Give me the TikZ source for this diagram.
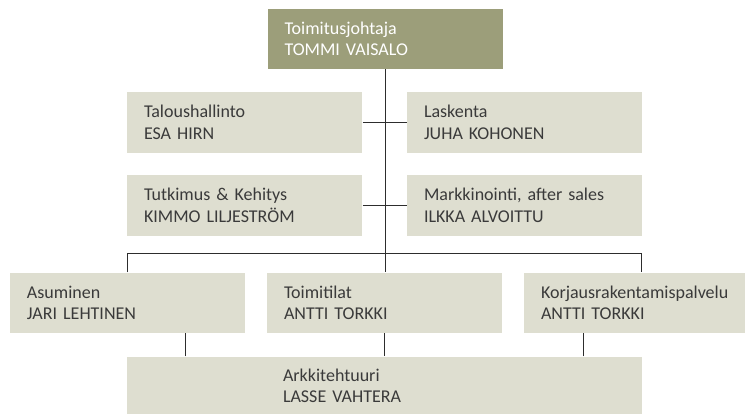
\documentclass[tikz,border=0pt]{standalone}
\usepackage{fontspec}
\setmainfont[WordSpace=0.7]{Carlito}
\usepackage{tikz}
\usetikzlibrary{positioning}

\definecolor{boxgray}{RGB}{222,222,208}
\definecolor{boxolive}{RGB}{156,158,122}
\definecolor{textgray}{RGB}{58,58,58}
\definecolor{linegray}{RGB}{45,45,45}

\begin{document}
\begin{tikzpicture}[x=1pt, y=-1pt, line width=1pt, draw=linegray,
    orgbox/.style={fill=boxgray, text=textgray, align=left, text width=201pt,
        inner xsep=17pt, inner ysep=0pt, minimum height=61pt,
        font=\fontsize{18}{21.5}\selectfont},
    headbox/.style={orgbox, fill=boxolive, text=white, minimum height=60pt}]
\useasboundingbox (0,0) rectangle (745,414);
%
\node[headbox] (ceo) at (385,39) {Toimitusjohtaja\\TOMMI VAISALO};
\node[orgbox] (talous) at (244.5,122.5) {Taloushallinto\\ESA HIRN};
\node[orgbox] (laskenta) at (524.5,122.5) {Laskenta\\JUHA KOHONEN};
\node[orgbox] (tutkimus) at (244.5,205.5) {Tutkimus \& Kehitys\\KIMMO LILJESTRÖM};
\node[orgbox] (markkinointi) at (524.5,205.5) {Markkinointi, after sales\\ILKKA ALVOITTU};
%
\node[orgbox, minimum height=60pt] (asuminen) at (127.5,303) {Asuminen\\JARI LEHTINEN};
\node[orgbox, minimum height=60pt] (toimitilat) at (384.5,303) {Toimitilat\\ANTTI TORKKI};
\node[orgbox, minimum height=60pt] (korjaus) at (641.5,303) {Korjausrakentamispalvelu\\ANTTI TORKKI};
%
\node[fill=boxgray, minimum width=515pt, minimum height=58pt, inner sep=0pt] (arkki) at (384.5,386) {};
\node[orgbox, fill=none, anchor=west] (arkkitxt) at ([xshift=139pt]arkki.west) {Arkkitehtuuri\\LASSE VAHTERA};
%
\coordinate (bus) at (385,254);
\draw (ceo.south) -- (ceo.south |- toimitilat.north);
\draw (talous.east) -- (laskenta.west);
\draw (tutkimus.east) -- (markkinointi.west);
\draw (asuminen.north) -- (asuminen.north |- bus) -- (korjaus.north |- bus) -- (korjaus.north);
%
\coordinate (dropL) at ([xshift=59pt]arkki.north west);
\coordinate (dropR) at ([xshift=-59pt]arkki.north east);
\draw (dropL) -- (dropL |- asuminen.south);
\draw (toimitilat.south) -- (toimitilat.south |- arkki.north);
\draw (dropR) -- (dropR |- korjaus.south);
\end{tikzpicture}
\end{document}
